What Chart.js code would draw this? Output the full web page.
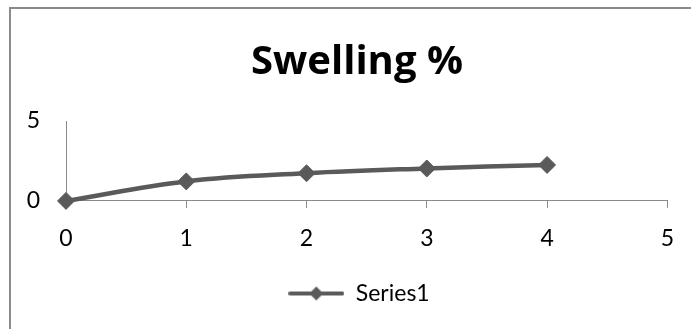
<!DOCTYPE html>
<html>
<head>
<meta charset="utf-8">
<script src="https://cdn.jsdelivr.net/npm/chart.js@4.4.1/dist/chart.umd.min.js"></script>
<style>
  html, body { margin: 0; padding: 0; background: #ffffff; }
  #wrap { position: relative; width: 691px; height: 329px; overflow: hidden; }
  #frame { position: absolute; left: 9px; top: 7px; width: 720px; height: 400px;
           border: 2px solid #8a8a8a; box-sizing: border-box; }
  canvas { position: absolute; left: 0; top: 0; }
</style>
</head>
<body>
<div id="wrap">
  <div id="frame"></div>
  <canvas id="chart" width="691" height="329"></canvas>
</div>
<script>
// Swelling over time
const timePoints = [0, 1, 2, 3, 4];
const swelling = [0, 1.22, 1.73, 2.03, 2.25];
const xTicks = [0, 1, 2, 3, 4, 5];
const yTicks = [0, 5];
const seriesName = 'Series1';

const lineColor = '#5a5a5a';
const axisColor = '#8a8a8a';
const fontFamily = 'Lato, "Open Sans", sans-serif';
const titleFamily = '"Open Sans", Lato, sans-serif';

// Legend marker: short line with a diamond in the middle
const marker = document.createElement('canvas');
marker.width = 56; marker.height = 16;
(function () {
  const c = marker.getContext('2d');
  c.strokeStyle = lineColor; c.lineWidth = 4; c.lineCap = 'round';
  c.beginPath(); c.moveTo(2, 8); c.lineTo(54, 8); c.stroke();
  c.fillStyle = lineColor;
  c.beginPath(); c.moveTo(28, 1); c.lineTo(35, 8); c.lineTo(28, 15); c.lineTo(21, 8); c.closePath(); c.fill();
})();

// Nudge the title and legend to the right of the canvas centre
const offsetBlocks = {
  id: 'offsetBlocks',
  afterLayout(chart) {
    if (chart.titleBlock) { chart.titleBlock.left += 23; chart.titleBlock.right += 23; }
    if (chart.legend) { chart.legend.left += 25; chart.legend.right += 25; }
  }
};

new Chart(document.getElementById('chart'), {
  type: 'line',
  data: {
    datasets: [{
      label: seriesName,
      data: timePoints.map((t, i) => ({ x: t, y: swelling[i] })),
      borderColor: lineColor,
      backgroundColor: lineColor,
      borderWidth: 4.5,
      tension: 0.4,
      clip: false,
      pointStyle: 'rectRot',
      pointRadius: 8.5,
      pointBorderWidth: 1,
      pointBackgroundColor: lineColor,
      pointBorderColor: lineColor
    }]
  },
  plugins: [offsetBlocks],
  options: {
    responsive: false,
    animation: false,
    layout: { padding: { left: 0, right: 23, top: 0, bottom: 14 } },
    plugins: {
      title: {
        display: true,
        text: 'Swelling %',
        color: '#000000',
        font: { family: titleFamily, size: 40, weight: 'bold', lineHeight: 1.2 },
        padding: { top: 39, bottom: 34 }
      },
      legend: {
        position: 'bottom',
        labels: {
          usePointStyle: true,
          pointStyle: marker,
          pointStyleWidth: 56,
          color: '#000000',
          font: { family: fontFamily, size: 23 },
          padding: 12.5
        }
      },
      tooltip: { enabled: false }
    },
    scales: {
      x: {
        type: 'linear',
        min: 0, max: 5,
        afterBuildTicks: s => { s.ticks = xTicks.map(v => ({ value: v })); },
        ticks: { color: '#000000', font: { family: fontFamily, size: 23 }, padding: 17 },
        grid: { drawOnChartArea: false, drawTicks: true, tickLength: 7, color: axisColor },
        border: { display: true, color: axisColor, width: 1 }
      },
      y: {
        type: 'linear',
        min: 0, max: 5,
        afterBuildTicks: s => { s.ticks = yTicks.map(v => ({ value: v })); },
        afterFit: s => { s.width = 66; },
        ticks: { color: '#000000', font: { family: fontFamily, size: 23 }, padding: 26 },
        grid: { drawOnChartArea: false, drawTicks: false, color: axisColor },
        border: { display: true, color: axisColor, width: 1 }
      }
    }
  }
});
</script>
</body>
</html>
